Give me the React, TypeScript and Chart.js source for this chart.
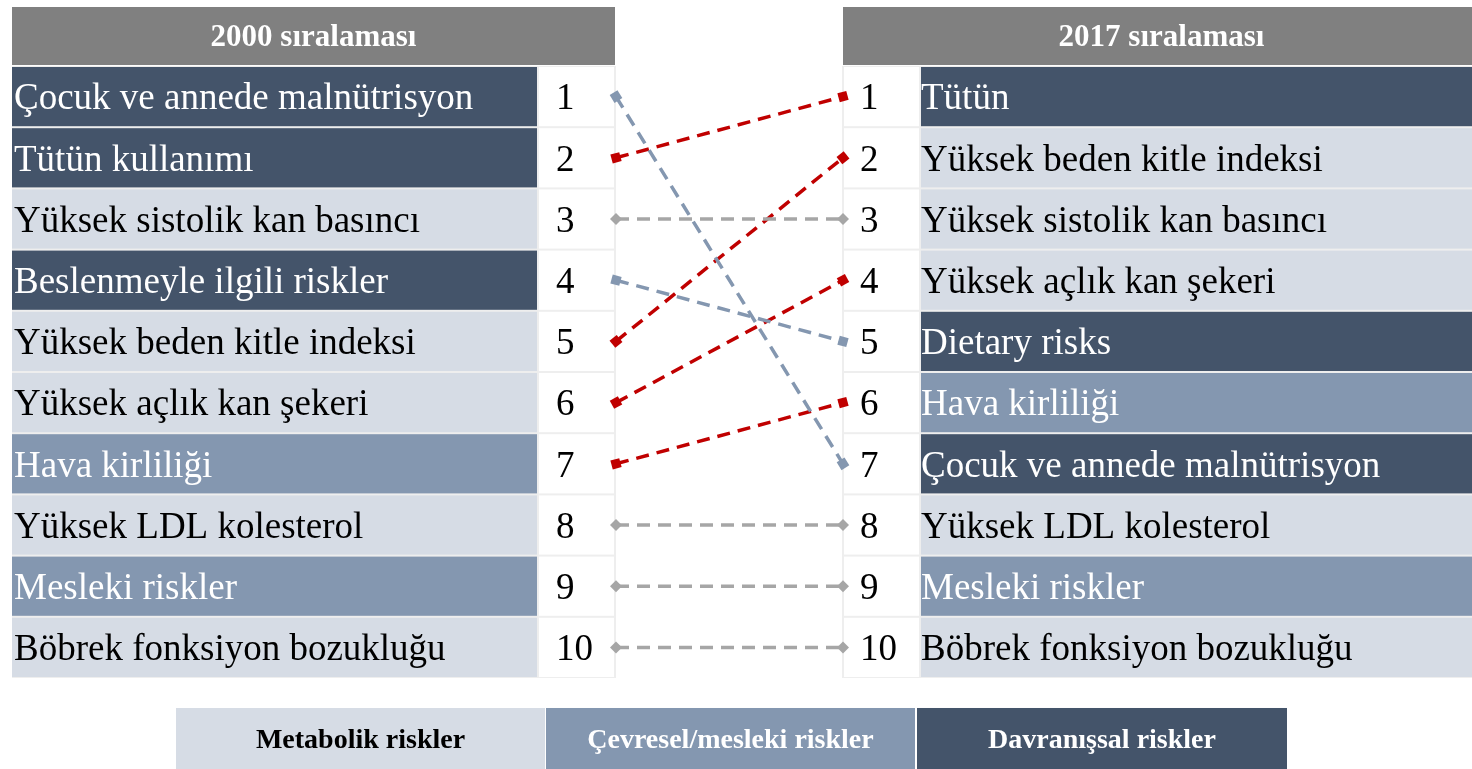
import React, { useEffect, useRef } from "react";
import { Chart, registerables } from "chart.js";

Chart.register(...registerables);

// ---- data ----
const columnTitles = ["2000 sıralaması", "2017 sıralaması"];
const labels2000 = [
  "Çocuk ve annede malnütrisyon",
  "Tütün kullanımı",
  "Yüksek sistolik kan basıncı",
  "Beslenmeyle ilgili riskler",
  "Yüksek beden kitle indeksi",
  "Yüksek açlık kan şekeri",
  "Hava kirliliği",
  "Yüksek LDL kolesterol",
  "Mesleki riskler",
  "Böbrek fonksiyon bozukluğu",
];
const groups2000 = ["beh", "beh", "met", "beh", "met", "met", "env", "met", "env", "met"];
const labels2017 = [
  "Tütün",
  "Yüksek beden kitle indeksi",
  "Yüksek sistolik kan basıncı",
  "Yüksek açlık kan şekeri",
  "Dietary risks",
  "Hava kirliliği",
  "Çocuk ve annede malnütrisyon",
  "Yüksek LDL kolesterol",
  "Mesleki riskler",
  "Böbrek fonksiyon bozukluğu",
];
const groups2017 = ["beh", "met", "met", "met", "beh", "env", "beh", "met", "env", "met"];
// rank in 2000 -> rank in 2017 (same risk)
const rank2000 = [1, 2, 3, 4, 5, 6, 7, 8, 9, 10];
const rank2017 = [7, 1, 3, 5, 2, 4, 6, 8, 9, 10];
const legendLabels = ["Metabolik riskler", "Çevresel/mesleki riskler", "Davranışsal riskler"];
const legendGroups = ["met", "env", "beh"];

// ---- styles ----
const FILL: Record<string, string> = { met: "#d6dce5", env: "#8497b0", beh: "#44546a" };
const TEXT: Record<string, string> = { met: "#000000", env: "#ffffff", beh: "#ffffff" };
const UP = "#c00000";
const DOWN = "#8497b0";
const SAME = "#a6a6a6";
const SERIF = '"Liberation Serif", "Times New Roman", serif';

const tablePlugin = {
  id: "rankTable",
  beforeDatasetsDraw(chart: any) {
    const ctx = chart.ctx;
    const xs = chart.scales.x;
    const ys = chart.scales.y;
    const W = chart.width;
    const xL = xs.getPixelForValue(0);
    const xR = xs.getPixelForValue(1);
    const top = ys.getPixelForValue(0.5);
    const bottom = ys.getPixelForValue(10.5);
    const hTop = ys.getPixelForValue(-0.464);
    const hBot = ys.getPixelForValue(0.484);

    const leftL = 12;
    const leftRankL = xL - 78;
    const leftRankR = xL - 1;
    const rightRankL = xR;
    const rightRankR = xR + 77;
    const rightL = rightRankR + 1;

    ctx.save();
    // headers
    ctx.fillStyle = "#808080";
    ctx.fillRect(leftL, hTop, leftRankR - leftL, hBot - hTop);
    ctx.fillRect(rightRankL, hTop, W - rightRankL, hBot - hTop);
    ctx.fillStyle = "#ffffff";
    ctx.font = `bold 31px ${SERIF}`;
    ctx.textAlign = "center";
    ctx.textBaseline = "middle";
    ctx.fillText(columnTitles[0], (leftL + leftRankR) / 2, (hTop + hBot) / 2 + 2);
    ctx.fillText(columnTitles[1], (rightRankL + W) / 2 + 4, (hTop + hBot) / 2 + 2);

    // background of table grid
    ctx.fillStyle = "#eeeeee";
    ctx.fillRect(leftL, top, leftRankR - leftL + 1, bottom - top);
    ctx.fillRect(rightRankL - 1, top, W - rightRankL + 1, bottom - top);

    for (let i = 0; i < 10; i++) {
      const r = i + 1;
      const t = ys.getPixelForValue(r - 0.5);
      const b = ys.getPixelForValue(r + 0.5);
      const cy = (t + b) / 2;
      // left label cell
      ctx.fillStyle = FILL[groups2000[i]];
      ctx.fillRect(leftL, t + 1, leftRankL - leftL - 1, b - t - 2);
      // left rank cell
      ctx.fillStyle = "#ffffff";
      ctx.fillRect(leftRankL + 1, t + 1, leftRankR - leftRankL - 2, b - t - 2);
      // right rank cell
      ctx.fillRect(rightRankL + 1, t + 1, rightRankR - rightRankL - 2, b - t - 2);
      // right label cell
      ctx.fillStyle = FILL[groups2017[i]];
      ctx.fillRect(rightL, t + 1, W - rightL, b - t - 2);

      ctx.font = `37px ${SERIF}`;
      ctx.textAlign = "left";
      ctx.textBaseline = "middle";
      ctx.fillStyle = TEXT[groups2000[i]];
      ctx.fillText(labels2000[i], leftL + 2, cy + 3);
      ctx.fillStyle = TEXT[groups2017[i]];
      ctx.fillText(labels2017[i], rightL, cy + 3);
      ctx.fillStyle = "#000000";
      ctx.fillText(String(r), leftRankL + 18, cy + 3);
      ctx.fillText(String(r), rightRankL + 17, cy + 3);
    }

    // legend
    const lTop = ys.getPixelForValue(10.99);
    const lBot = chart.height;
    const boxes = [
      [176, 545],
      [546, 915],
      [917, 1287],
    ];
    ctx.font = `bold 28px ${SERIF}`;
    ctx.textAlign = "center";
    legendLabels.forEach((lab, k) => {
      const [a, b] = boxes[k];
      ctx.fillStyle = FILL[legendGroups[k]];
      ctx.fillRect(a, lTop, b - a, lBot - lTop);
      ctx.fillStyle = TEXT[legendGroups[k]];
      ctx.fillText(lab, (a + b) / 2, (lTop + lBot) / 2 + 2);
    });
    ctx.restore();
  },
};

export default function App() {
  const ref = useRef<HTMLCanvasElement | null>(null);
  useEffect(() => {
    if (!ref.current) return;
    const datasets = rank2000.map((r0, i) => {
      const r1 = rank2017[i];
      const color = r1 < r0 ? UP : r1 > r0 ? DOWN : SAME;
      const same = r1 === r0;
      return {
        type: "line" as const,
        data: [
          { x: 0, y: r0 },
          { x: 1, y: r1 },
        ],
        borderColor: color,
        backgroundColor: color,
        borderWidth: 3.5,
        borderDash: [13, 8],
        pointRadius: same ? 6 : 6.5,
        pointBorderWidth: 0,
        pointStyle: same ? "rectRot" : "rect",
        pointRotation: (c: any) => {
          if (same) return 0;
          const xs = c.chart.scales.x;
          const ys = c.chart.scales.y;
          if (!xs || !ys) return 0;
          const dx = xs.getPixelForValue(1) - xs.getPixelForValue(0);
          const dy = ys.getPixelForValue(r1) - ys.getPixelForValue(r0);
          return (Math.atan2(dy, dx) * 180) / Math.PI;
        },
        tension: 0,
      };
    });
    const chart = new Chart(ref.current, {
      type: "scatter",
      data: { datasets: datasets as any },
      options: {
        animation: false,
        responsive: false,
        devicePixelRatio: 1,
        layout: { padding: 0, autoPadding: false },
        plugins: { legend: { display: false }, tooltip: { enabled: false }, title: { display: false } },
        scales: {
          x: { type: "linear", display: false, bounds: "data", min: -616 / 227, max: (1472 - 616) / 227 },
          y: {
            type: "linear",
            display: false,
            bounds: "data",
            reverse: true,
            min: 1 - 96.6 / 61.2,
            max: 1 - 96.6 / 61.2 + 769 / 61.2,
          },
        },
      },
      plugins: [tablePlugin],
    });
    return () => chart.destroy();
  }, []);
  return (
    <div style={{ position: "fixed", left: 0, top: 0, width: 1472, height: 769, background: "#ffffff" }}>
      <canvas ref={ref} width={1472} height={769} style={{ width: 1472, height: 769, display: "block" }} />
    </div>
  );
}
